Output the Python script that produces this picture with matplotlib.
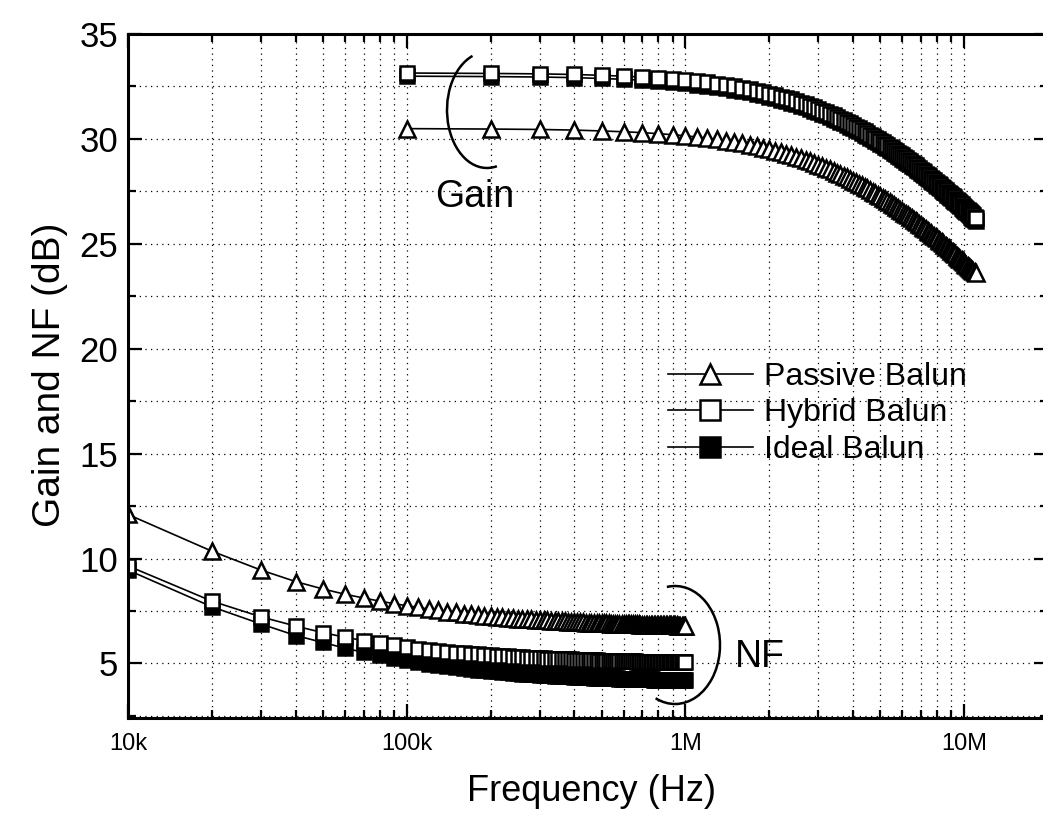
import matplotlib.pyplot as plt
from matplotlib.patches import Arc
from matplotlib.transforms import Affine2D
from matplotlib.ticker import FixedLocator, MultipleLocator, NullFormatter

plt.rcParams['font.family'] = ['Liberation Sans', 'DejaVu Sans']

# NF sweep: 10 kHz .. 1 MHz
nf_freq_khz = [
    10, 20, 30, 40, 50, 60, 70, 80, 90, 100,
    110, 120, 130, 140, 150, 160, 170, 180, 190, 200,
    210, 220, 230, 240, 250, 260, 270, 280, 290, 300,
    310, 320, 330, 340, 350, 360, 370, 380, 390, 400,
    410, 420, 430, 440, 450, 460, 470, 480, 490, 500,
    510, 520, 530, 540, 550, 560, 570, 580, 590, 600,
    610, 620, 630, 640, 650, 660, 670, 680, 690, 700,
    710, 720, 730, 740, 750, 760, 770, 780, 790, 800,
    810, 820, 830, 840, 850, 860, 870, 880, 890, 900,
    910, 920, 930, 940, 950, 960, 970, 980, 990, 1000,
]
nf_passive = [
    12.10, 10.35, 9.45, 8.90, 8.55, 8.30, 8.12, 7.97, 7.85, 7.75,
    7.67, 7.59, 7.53, 7.47, 7.43, 7.38, 7.34, 7.31, 7.28, 7.25,
    7.23, 7.20, 7.18, 7.16, 7.14, 7.13, 7.11, 7.10, 7.08, 7.07,
    7.06, 7.05, 7.04, 7.03, 7.02, 7.01, 7.00, 6.99, 6.98, 6.98,
    6.97, 6.96, 6.96, 6.95, 6.95, 6.94, 6.93, 6.93, 6.92, 6.92,
    6.91, 6.91, 6.91, 6.90, 6.90, 6.90, 6.89, 6.89, 6.89, 6.88,
    6.88, 6.88, 6.87, 6.87, 6.87, 6.86, 6.86, 6.86, 6.85, 6.85,
    6.85, 6.85, 6.84, 6.84, 6.84, 6.84, 6.83, 6.83, 6.83, 6.83,
    6.83, 6.82, 6.82, 6.82, 6.82, 6.82, 6.82, 6.81, 6.81, 6.81,
    6.81, 6.81, 6.81, 6.80, 6.80, 6.80, 6.80, 6.80, 6.80, 6.80,
]
nf_hybrid = [
    9.65, 7.97, 7.22, 6.78, 6.47, 6.25, 6.09, 5.96, 5.86, 5.78,
    5.71, 5.65, 5.60, 5.56, 5.52, 5.49, 5.46, 5.43, 5.41, 5.39,
    5.37, 5.35, 5.34, 5.32, 5.31, 5.29, 5.28, 5.27, 5.26, 5.25,
    5.24, 5.23, 5.22, 5.22, 5.21, 5.20, 5.20, 5.19, 5.19, 5.18,
    5.18, 5.17, 5.17, 5.16, 5.16, 5.16, 5.15, 5.15, 5.14, 5.14,
    5.14, 5.13, 5.13, 5.12, 5.12, 5.12, 5.12, 5.11, 5.11, 5.11,
    5.11, 5.10, 5.10, 5.10, 5.10, 5.10, 5.09, 5.09, 5.09, 5.09,
    5.09, 5.08, 5.08, 5.08, 5.08, 5.08, 5.07, 5.07, 5.07, 5.07,
    5.07, 5.07, 5.06, 5.06, 5.06, 5.06, 5.06, 5.06, 5.06, 5.06,
    5.06, 5.05, 5.05, 5.05, 5.05, 5.05, 5.05, 5.05, 5.05, 5.05,
]
nf_ideal = [
    9.45, 7.70, 6.88, 6.33, 6.00, 5.73, 5.53, 5.38, 5.25, 5.15,
    5.06, 4.98, 4.92, 4.87, 4.82, 4.78, 4.74, 4.70, 4.67, 4.65,
    4.62, 4.60, 4.58, 4.56, 4.54, 4.52, 4.51, 4.49, 4.48, 4.47,
    4.45, 4.44, 4.43, 4.42, 4.41, 4.40, 4.39, 4.39, 4.38, 4.37,
    4.37, 4.36, 4.35, 4.35, 4.34, 4.34, 4.33, 4.33, 4.32, 4.32,
    4.31, 4.31, 4.30, 4.30, 4.29, 4.29, 4.29, 4.28, 4.28, 4.28,
    4.27, 4.27, 4.27, 4.26, 4.26, 4.26, 4.26, 4.25, 4.25, 4.25,
    4.25, 4.24, 4.24, 4.24, 4.24, 4.24, 4.23, 4.23, 4.23, 4.23,
    4.23, 4.22, 4.22, 4.22, 4.22, 4.22, 4.22, 4.21, 4.21, 4.21,
    4.21, 4.21, 4.21, 4.21, 4.20, 4.20, 4.20, 4.20, 4.20, 4.20,
]

# gain sweep: 100 kHz .. 11 MHz
gain_freq_mhz = [
    0.1, 0.2, 0.3, 0.4, 0.5, 0.6, 0.7, 0.8, 0.9, 1.0,
    1.1, 1.2, 1.3, 1.4, 1.5, 1.6, 1.7, 1.8, 1.9, 2.0,
    2.1, 2.2, 2.3, 2.4, 2.5, 2.6, 2.7, 2.8, 2.9, 3.0,
    3.1, 3.2, 3.3, 3.4, 3.5, 3.6, 3.7, 3.8, 3.9, 4.0,
    4.1, 4.2, 4.3, 4.4, 4.5, 4.6, 4.7, 4.8, 4.9, 5.0,
    5.1, 5.2, 5.3, 5.4, 5.5, 5.6, 5.7, 5.8, 5.9, 6.0,
    6.1, 6.2, 6.3, 6.4, 6.5, 6.6, 6.7, 6.8, 6.9, 7.0,
    7.1, 7.2, 7.3, 7.4, 7.5, 7.6, 7.7, 7.8, 7.9, 8.0,
    8.1, 8.2, 8.3, 8.4, 8.5, 8.6, 8.7, 8.8, 8.9, 9.0,
    9.1, 9.2, 9.3, 9.4, 9.5, 9.6, 9.7, 9.8, 9.9, 10.0,
    10.1, 10.2, 10.3, 10.4, 10.5, 10.6, 10.7, 10.8, 10.9, 11.0,
]
gain_passive = [
    30.49, 30.47, 30.45, 30.42, 30.38, 30.34, 30.30, 30.25, 30.20, 30.15,
    30.09, 30.04, 29.98, 29.92, 29.85, 29.79, 29.72, 29.65, 29.58, 29.51,
    29.44, 29.37, 29.30, 29.23, 29.15, 29.08, 29.00, 28.93, 28.85, 28.77,
    28.70, 28.62, 28.55, 28.47, 28.39, 28.32, 28.24, 28.17, 28.09, 28.01,
    27.94, 27.86, 27.79, 27.71, 27.64, 27.56, 27.49, 27.41, 27.34, 27.27,
    27.20, 27.12, 27.05, 26.98, 26.91, 26.84, 26.77, 26.70, 26.63, 26.56,
    26.49, 26.42, 26.35, 26.29, 26.22, 26.15, 26.09, 26.02, 25.95, 25.89,
    25.82, 25.76, 25.70, 25.63, 25.57, 25.51, 25.44, 25.38, 25.32, 25.26,
    25.20, 25.14, 25.08, 25.02, 24.96, 24.90, 24.84, 24.78, 24.73, 24.67,
    24.61, 24.56, 24.50, 24.44, 24.39, 24.33, 24.28, 24.23, 24.17, 24.12,
    24.06, 24.01, 23.96, 23.91, 23.85, 23.80, 23.75, 23.70, 23.65, 23.60,
]
gain_hybrid = [
    33.14, 33.12, 33.10, 33.07, 33.03, 32.99, 32.95, 32.90, 32.85, 32.80,
    32.74, 32.69, 32.63, 32.57, 32.50, 32.44, 32.37, 32.30, 32.23, 32.16,
    32.09, 32.02, 31.95, 31.88, 31.80, 31.73, 31.65, 31.58, 31.50, 31.42,
    31.35, 31.27, 31.20, 31.12, 31.04, 30.97, 30.89, 30.82, 30.74, 30.66,
    30.59, 30.51, 30.44, 30.36, 30.29, 30.21, 30.14, 30.06, 29.99, 29.92,
    29.85, 29.77, 29.70, 29.63, 29.56, 29.49, 29.42, 29.35, 29.28, 29.21,
    29.14, 29.07, 29.00, 28.94, 28.87, 28.80, 28.74, 28.67, 28.60, 28.54,
    28.47, 28.41, 28.35, 28.28, 28.22, 28.16, 28.09, 28.03, 27.97, 27.91,
    27.85, 27.79, 27.73, 27.67, 27.61, 27.55, 27.49, 27.43, 27.38, 27.32,
    27.26, 27.21, 27.15, 27.09, 27.04, 26.98, 26.93, 26.88, 26.82, 26.77,
    26.71, 26.66, 26.61, 26.56, 26.50, 26.45, 26.40, 26.35, 26.30, 26.25,
]
gain_ideal = [
    32.99, 32.97, 32.95, 32.92, 32.88, 32.84, 32.80, 32.75, 32.70, 32.65,
    32.59, 32.54, 32.48, 32.42, 32.35, 32.29, 32.22, 32.15, 32.08, 32.01,
    31.94, 31.87, 31.80, 31.73, 31.65, 31.58, 31.50, 31.43, 31.35, 31.27,
    31.20, 31.12, 31.05, 30.97, 30.89, 30.82, 30.74, 30.67, 30.59, 30.51,
    30.44, 30.36, 30.29, 30.21, 30.14, 30.06, 29.99, 29.91, 29.84, 29.77,
    29.70, 29.62, 29.55, 29.48, 29.41, 29.34, 29.27, 29.20, 29.13, 29.06,
    28.99, 28.92, 28.85, 28.79, 28.72, 28.65, 28.59, 28.52, 28.45, 28.39,
    28.32, 28.26, 28.20, 28.13, 28.07, 28.01, 27.94, 27.88, 27.82, 27.76,
    27.70, 27.64, 27.58, 27.52, 27.46, 27.40, 27.34, 27.28, 27.23, 27.17,
    27.11, 27.06, 27.00, 26.94, 26.89, 26.83, 26.78, 26.73, 26.67, 26.62,
    26.56, 26.51, 26.46, 26.41, 26.35, 26.30, 26.25, 26.20, 26.15, 26.10,
]

x_ticks = [1e4, 1e5, 1e6, 1e7]
x_ticklabels = ['10k', '100k', '1M', '10M']
y_ticks = [5, 10, 15, 20, 25, 30, 35]
labels = ['Passive Balun', 'Hybrid Balun', 'Ideal Balun']

W, H = 1043, 827
fig = plt.figure(figsize=(W / 100, H / 100), dpi=100)
ax = fig.add_axes([128 / W, 1 - 718 / H, 920 / W, 684 / H])
# transform for figure pixels measured from the top-left corner
px = Affine2D().scale(1 / W, -1 / H).translate(0, 1) + fig.transFigure

nf_f = [f * 1e3 for f in nf_freq_khz]
g_f = [f * 1e6 for f in gain_freq_mhz]

tri = dict(color='black', lw=1.2, marker='^', ms=12, mew=1.8, mfc='white', mec='black')
sq_open = dict(color='black', lw=1.2, marker='s', ms=10, mew=1.8, mfc='white', mec='black')
sq_fill = dict(color='black', lw=1.2, marker='s', ms=10, mew=1.8, mfc='black', mec='black')

l_p, = ax.plot(nf_f, nf_passive, **tri)
ax.plot(g_f, gain_passive, **tri)
l_i, = ax.plot(nf_f, nf_ideal, **sq_fill)
ax.plot(g_f, gain_ideal, **sq_fill)
l_h, = ax.plot(nf_f, nf_hybrid, **sq_open)
ax.plot(g_f, gain_hybrid, **sq_open)

ax.set_xscale('log')
ax.set_xlim(1e4, 2e7)
ax.set_ylim(2.4, 35)
ax.xaxis.set_major_locator(FixedLocator(x_ticks))
ax.set_xticklabels(x_ticklabels)
ax.xaxis.set_minor_formatter(NullFormatter())
ax.set_yticks(y_ticks)
ax.yaxis.set_minor_locator(MultipleLocator(2.5))

ax.tick_params(which='both', direction='in', top=True, right=True, width=1.6, color='black')
ax.tick_params(which='major', length=10)
ax.tick_params(which='minor', length=6)
ax.tick_params(axis='x', labelsize=17, pad=11)
ax.tick_params(axis='y', labelsize=25, pad=7)
for s in ax.spines.values():
    s.set_linewidth(2.2)

ax.grid(True, which='both', color='black', lw=0.9, linestyle=(0, (1, 3.5)))
ax.set_axisbelow(True)

ax.set_xlabel('Frequency (Hz)', fontsize=26)
ax.xaxis.set_label_coords(0.504, -0.082)
ax.set_ylabel('Gain and NF (dB)', fontsize=28)
ax.yaxis.set_label_coords(-0.065, 0.5015)

leg = ax.legend([l_p, l_h, l_i], labels, loc='upper left',
                bbox_to_anchor=(668 / W, 1 - 362 / H), bbox_transform=fig.transFigure,
                frameon=False, fontsize=23, handlelength=2.65, handletextpad=0.35,
                labelspacing=0.2, borderpad=0, borderaxespad=0, numpoints=1)
for h in leg.legend_handles:
    h.set_markersize(14)

# bracket arcs and their labels
ax.add_patch(Arc((487, 110), 80, 116, theta1=80, theta2=255, transform=px,
                 color='black', lw=1.8, clip_on=False))
ax.add_patch(Arc((675, 645), 90, 118, theta1=-98, theta2=110, transform=px,
                 color='black', lw=1.8, clip_on=False))
fig.text(435, 207, 'Gain', transform=px, fontsize=27, va='baseline', ha='left')
fig.text(735, 667, 'NF', transform=px, fontsize=27, va='baseline', ha='left')

fig.savefig('out.png', dpi=100)
